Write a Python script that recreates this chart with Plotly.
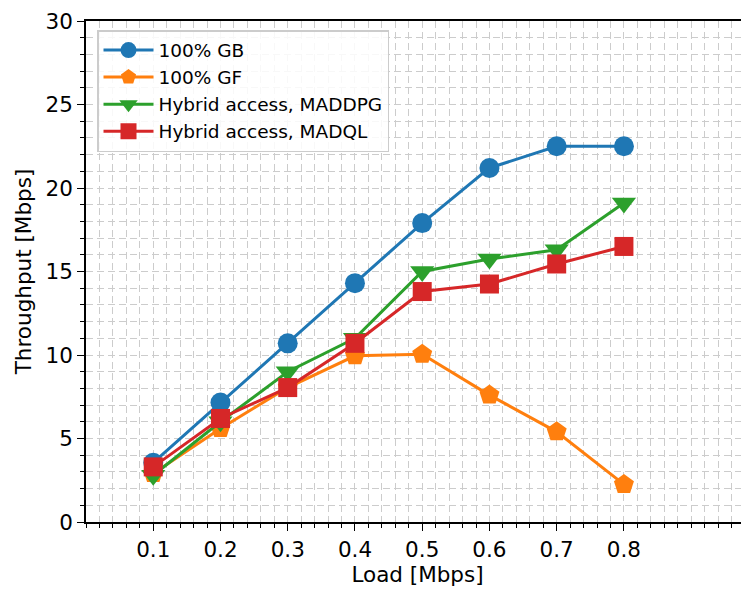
import plotly.graph_objects as go

load = [0.1, 0.2, 0.3, 0.4, 0.5, 0.6, 0.7, 0.8]
gb = [3.55, 7.15, 10.7, 14.3, 17.9, 21.2, 22.5, 22.5]
gf = [2.9, 5.6, 8.05, 9.95, 10.05, 7.6, 5.4, 2.25]
maddpg = [2.8, 6.0, 9.0, 11.0, 15.0, 15.75, 16.3, 19.1]
madql = [3.3, 6.2, 8.05, 10.7, 13.8, 14.25, 15.45, 16.5]
xticks = [0.1, 0.2, 0.3, 0.4, 0.5, 0.6, 0.7, 0.8]

series = [
    ("100% GB", gb, "#1f77b4", "circle", 20),
    ("100% GF", gf, "#ff7f0e", "pentagon", 21),
    ("Hybrid access, MADDPG", maddpg, "#2ca02c", "triangle-down", 21),
    ("Hybrid access, MADQL", madql, "#d62728", "square", 19),
]

fig = go.Figure()
for name, vals, col, sym, sz in series:
    fig.add_trace(go.Scatter(
        x=load, y=vals, name=name, mode="lines+markers",
        line=dict(color=col, width=3),
        marker=dict(symbol=sym, size=sz, color=col),
    ))

FONT = "DejaVu Sans"
GRIDC = "#cccccc"
DASH = "7px,4px"

fig.update_layout(
    width=749, height=589,
    margin=dict(l=78, r=8, t=13, b=75),
    paper_bgcolor="white", plot_bgcolor="white",
    font=dict(family=FONT, size=21.5, color="black"),
    showlegend=True,
    legend=dict(
        x=0.0166, y=0.982, xanchor="left", yanchor="top",
        bgcolor="rgba(255,255,255,0.85)", bordercolor="#cccccc", borderwidth=1.5,
        font=dict(family=FONT, size=18.5),
        tracegroupgap=0, itemsizing="trace", itemwidth=50,
    ),
    xaxis=dict(
        range=[0, 0.986], tickmode="array", tickvals=xticks,
        ticktext=[f"{v:.1f}" for v in xticks],
        ticks="outside", ticklen=7, tickwidth=1.2, tickcolor="black",
        showline=True, linecolor="black", linewidth=1.5, mirror=True,
        showgrid=True, gridcolor=GRIDC, griddash=DASH, gridwidth=1.3, zeroline=False,
        minor=dict(tickmode="linear", tick0=0, dtick=0.02, ticks="outside",
                   ticklen=4, tickcolor="black", tickwidth=1,
                   showgrid=True, gridcolor=GRIDC, griddash=DASH, gridwidth=1.3),
        title=dict(text="Load [Mbps]", font=dict(size=21.5), standoff=6),
        tickfont=dict(size=21.5), automargin=False,
    ),
    yaxis=dict(
        range=[0, 30], tickmode="linear", tick0=0, dtick=5,
        ticks="outside", ticklen=7, tickwidth=1.2, tickcolor="black",
        showline=True, linecolor="black", linewidth=1.5,
        showgrid=True, gridcolor=GRIDC, griddash=DASH, gridwidth=1.3, zeroline=False,
        minor=dict(tickmode="linear", tick0=0, dtick=1, ticks="outside",
                   ticklen=4, tickcolor="black", tickwidth=1,
                   showgrid=True, gridcolor=GRIDC, griddash=DASH, gridwidth=1.3),
        title=dict(text="Throughput [Mbps]", font=dict(size=21.5), standoff=8),
        tickfont=dict(size=21.5), automargin=False,
    ),
)

fig.write_html("out.html")
